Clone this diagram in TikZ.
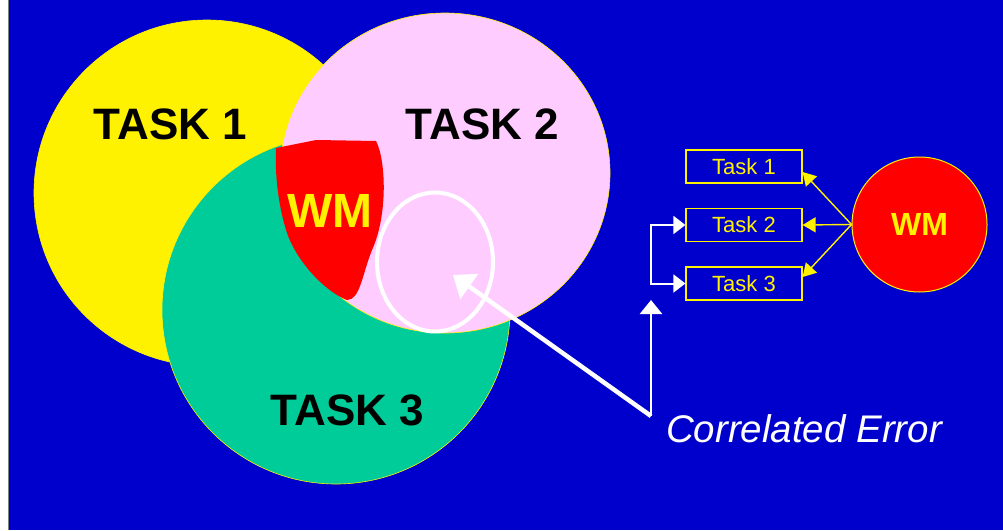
\documentclass[tikz,border=0pt]{standalone}
\usepackage{fontspec}
\setmainfont{Liberation Sans}
\usetikzlibrary{shapes.geometric, arrows.meta}
\definecolor{slideblue}{RGB}{0,0,204}
\definecolor{taskpink}{RGB}{255,204,255}
\definecolor{taskgreen}{RGB}{0,204,153}

\begin{document}
\begin{tikzpicture}[x=1pt,y=-1pt]

\tikzset{blob/.style = {shape=circle, draw=yellow, line width=0.6pt, inner sep=0pt}}
\tikzset{bigtext/.style = {font=\fontsize{44}{44}\selectfont\bfseries}}
\tikzset{taskbox/.style = {draw=yellow, line width=1.2pt, fill=slideblue, text=yellow, minimum width=116pt, minimum height=33pt, inner sep=0pt, font=\fontsize{22}{22}\selectfont}}
\tikzset{wmedge/.style = {draw=yellow, line width=1.4pt, -{Triangle[length=13pt,width=15pt]}}}
\tikzset{whiteedge/.style = {draw=white, line width=2pt, {Triangle[length=12pt,width=18pt]}-{Triangle[length=12pt,width=18pt]}}}

\useasboundingbox (0,0) rectangle (1003,530);
% background
\fill[white] (0,0) rectangle (9,530);
\fill[slideblue] (9,0) rectangle (1003,530);
\draw[gray, line width=1pt] (8.5,0) -- (8.5,530);

% circles
\node[blob, fill=yellow, minimum size=346pt] (task1) at (207,193) {};
\node[blob, fill=taskgreen, minimum size=348pt] (task3) at (336,310) {};
\node[blob, shape=ellipse, fill=taskpink, minimum width=330pt, minimum height=320pt] (task2) at (445,173) {};

% WM patch
\fill[red] (276,148) -- (316,140) -- (376,141) .. controls (386,160) and (388,215) .. (372,250)
  .. controls (362,275) and (360,300) .. (347,300) .. controls (326,292) and (296,262) .. (286,230)
  .. controls (277,200) and (275,170) .. cycle;

% labels
\node[bigtext] (label1) at (170.5,124) {TASK 1};
\node[bigtext] (label2) at (482.5,124) {TASK 2};
\node[bigtext] (label3) at (347.5,410) {TASK 3};
\node[font=\fontsize{48}{48}\selectfont\bfseries, text=yellow] (wm) at (330,210.5) {WM};

% overlap
\node[draw=white, line width=4pt, shape=ellipse, minimum width=116pt, minimum height=139pt, inner sep=0pt] (err) at (435,262) {};

% boxes
\node[taskbox] (t1) at (744,166.5) {Task 1};
\node[taskbox] (t2) at (744,225) {Task 2};
\node[taskbox] (t3) at (744,283.5) {Task 3};
\node[blob, fill=red, line width=1pt, minimum size=135pt, text=yellow, font=\fontsize{32}{32}\selectfont\bfseries] (wmc) at (919.5,224.5) {WM};

% edges
\draw[wmedge] (wmc.west) -- ([yshift=-5.5pt]t1.east);
\draw[wmedge] (wmc.west) -- (t2.east);
\draw[wmedge] (wmc.west) -- ([yshift=6.5pt]t3.east);
\draw[whiteedge] (t2.west) -- ++(-34,0) |- (t3.west);

% error arrows
\coordinate (corner) at (651,416);
\coordinate (errtip) at (453,275);
\coordinate (uptip) at (651,300);
\draw[white, line width=4.5pt, -{Triangle[length=20pt,width=30pt]}] (corner) -- (errtip);
\draw[white, line width=2.5pt, -{Triangle[length=14pt,width=22pt]}] (corner) -- (uptip);
\node[text=white, font=\fontsize{38.5}{38.5}\selectfont\itshape] (corr) at (804,428.5) {Correlated Error};

\end{tikzpicture}
\end{document}
